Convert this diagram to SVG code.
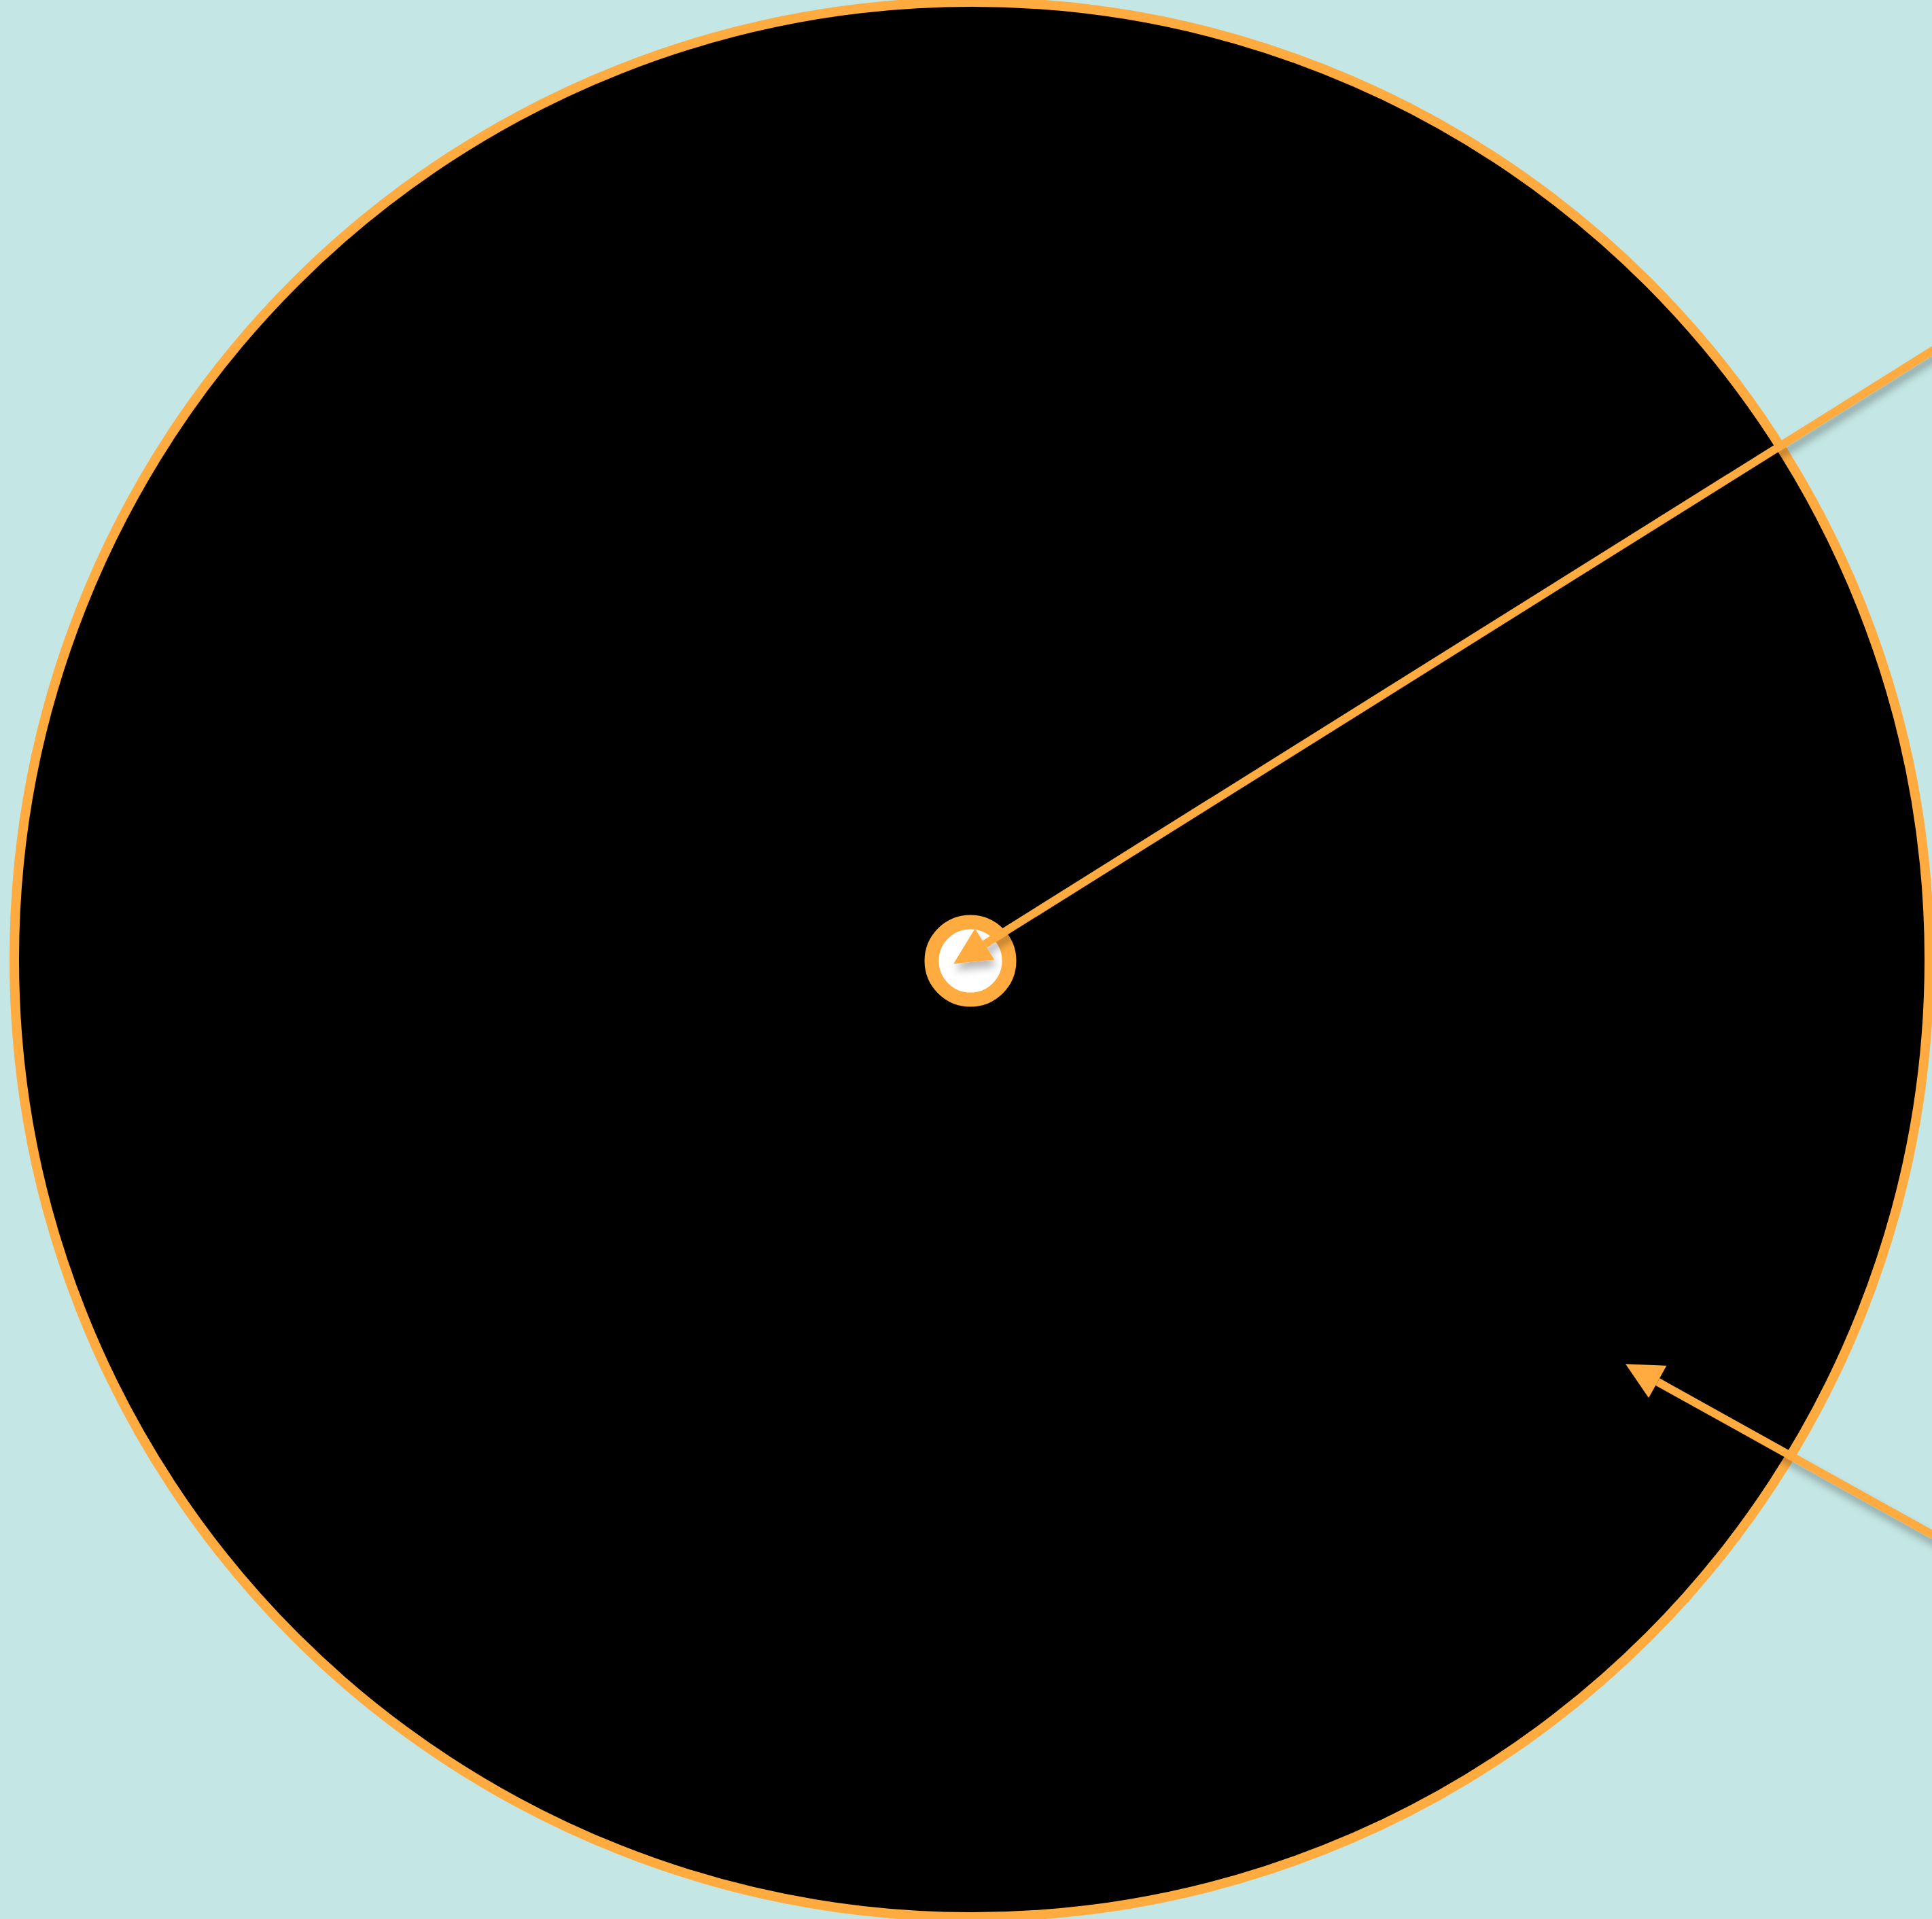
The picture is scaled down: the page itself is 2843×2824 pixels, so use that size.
<svg xmlns="http://www.w3.org/2000/svg" width="2843" height="2824" viewBox="0 0 2843 2824">
  <defs>
    <style>
      .ring { fill: #000000; stroke: #ffab40; stroke-width: 14; }
      .hub { fill: #ffffff; stroke: #ffab40; stroke-width: 21; }
      .conn { fill: none; stroke: #ffab40; stroke-width: 12; }
    </style>
    <marker id="arrow" markerUnits="userSpaceOnUse" markerWidth="54" markerHeight="54" refX="0" refY="27" orient="auto" overflow="visible">
      <path d="M0,0 L54,27 L0,54 Z" fill="#ffab40"/>
    </marker>
    <filter id="shadow" x="-20%" y="-20%" width="140%" height="140%">
      <feDropShadow dx="3" dy="10" stdDeviation="6" flood-color="#000000" flood-opacity="0.28"/>
    </filter>
  </defs>
  <rect x="0" y="0" width="2843" height="2824" fill="#c4e6e4"/>
  <g id="node-outer">
    <circle class="ring" cx="1430" cy="1412" r="1409"/>
  </g>
  <g id="node-center">
    <circle class="hub" cx="1428" cy="1414" r="57"/>
  </g>
  <g id="connectors" filter="url(#shadow)">
    <path class="conn" d="M2900,480.7 L1449,1389.5" marker-end="url(#arrow)"/>
    <path class="conn" d="M2900,2289.8 L2439.2,2033.4" marker-end="url(#arrow)"/>
  </g>
</svg>
